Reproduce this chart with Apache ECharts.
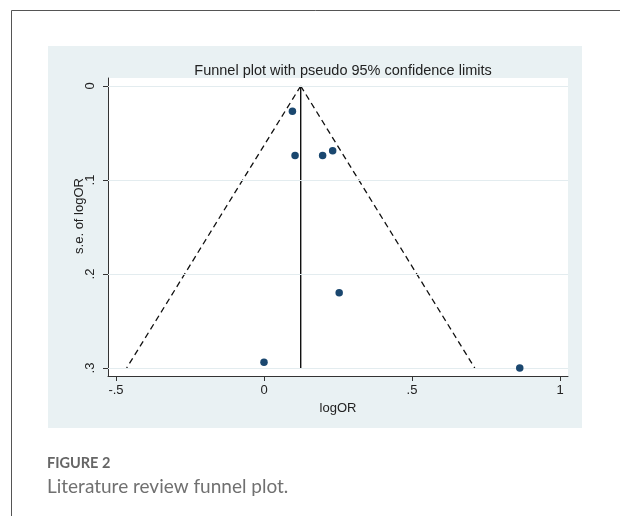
<!DOCTYPE html>
<html><head><meta charset="utf-8">
<script src="https://cdn.jsdelivr.net/npm/echarts@6/dist/echarts.min.js"></script>
<style>html,body{margin:0;padding:0;background:#fff}#c{width:620px;height:516px}</style>
</head><body><div id="c"></div>
<script>
// study estimates
var logOR = [0.096, 0.105, 0.198, 0.232, 0.000, 0.254, 0.864];
var seLogOR = [0.027, 0.074, 0.074, 0.069, 0.294, 0.220, 0.300];
var pooled = 0.124;           // fixed-effect pooled logOR (apex)
var seMax = 0.300;
var xTicks = [-0.5, 0, 0.5, 1];
var yTicks = [0, 0.1, 0.2, 0.3];
var titleText = 'Funnel plot with pseudo 95% confidence limits';
var xName = 'logOR';
var yName = 's.e. of logOR';

function fmt(v){ var s = String(v); return s.replace(/^0\./,'.').replace(/^-0\./,'-.'); }

var points = logOR.map(function(x,i){ return [x, seLogOR[i]]; });
var leftLimit = [[pooled, 0], [pooled - 1.96*seMax, seMax]];
var rightLimit = [[pooled, 0], [pooled + 1.96*seMax, seMax]];
var midLine = [[pooled, 0], [pooled, seMax]];

var axisCol = '#333';
var FONT = '"Liberation Sans", Arial, sans-serif';
var chart = echarts.init(document.getElementById('c'));
chart.setOption({
  animation: false,
  backgroundColor: '#fff',
  graphic: [
    {type:'rect', z:-10, shape:{x:48,y:46,width:534,height:382}, style:{fill:'#e9f1f3'}},
    {type:'line', shape:{x1:11.5,y1:10.5,x2:620,y2:10.5}, style:{stroke:'#555',lineWidth:1}},
    {type:'line', shape:{x1:11.5,y1:10.5,x2:11.5,y2:516}, style:{stroke:'#555',lineWidth:1}},
    {type:'text', x:79, y:216, rotation:Math.PI/2, style:{text:yName, font:'13px ' + FONT, fill:'#222', align:'center', verticalAlign:'middle'}},
    {type:'text', x:47, y:463, style:{text:'FIGURE 2', font:'bold 14.5px Lato, "Open Sans", sans-serif', fill:'#666', verticalAlign:'middle'}},
    {type:'text', x:47, y:487, style:{text:'Literature review funnel plot.', font:'19px Lato, "Open Sans", sans-serif', fill:'#707070', verticalAlign:'middle'}}
  ],
  title: {text: titleText, left: 338, textAlign:'center', top: 58,
    textStyle:{fontFamily:FONT, fontSize:14.5, fontWeight:'normal', color:'#222'}},
  grid: {left:108, right:52, top:78, bottom:140, show:true, backgroundColor:'#fff', borderWidth:0},
  xAxis: {type:'value', min:-0.527, max:1.027, position:'bottom',
    name:xName, nameLocation:'middle', nameGap:21,
    nameTextStyle:{fontFamily:FONT, fontSize:13, color:'#222'},
    axisLine:{show:true, onZero:false, lineStyle:{color:axisCol}},
    axisTick:{show:true, length:5, customValues:xTicks, lineStyle:{color:axisCol}},
    axisLabel:{customValues:xTicks, formatter:fmt, margin:8, fontFamily:FONT, fontSize:13, color:'#222'},
    splitLine:{show:false}},
  yAxis: {type:'value', inverse:true, min:-0.0085, max:0.3085, position:'left',
    axisLine:{show:true, onZero:false, lineStyle:{color:axisCol}},
    axisTick:{show:true, length:5, customValues:yTicks, lineStyle:{color:axisCol}},
    axisLabel:{customValues:yTicks, formatter:fmt, rotate:90, margin:11, fontFamily:FONT, fontSize:13, color:'#222'},
    splitLine:{show:false}},
  series: [
    {type:'line', data:[], silent:true,
      markLine:{silent:true, symbol:'none', label:{show:false},
        lineStyle:{color:'#e3ecef', width:1, type:'solid'},
        data: yTicks.map(function(v){ return {yAxis:v}; })}},
    {type:'line', data:leftLimit, symbol:'none', lineStyle:{color:'#111', width:1.3, type:[6,4]}},
    {type:'line', data:rightLimit, symbol:'none', lineStyle:{color:'#111', width:1.3, type:[6,4]}},
    {type:'line', data:midLine, symbol:'none', lineStyle:{color:'#111', width:1.4}},
    {type:'scatter', data:points, symbolSize:7.5, itemStyle:{color:'#1a476f', opacity:1}, z:5}
  ]
});
</script></body></html>
